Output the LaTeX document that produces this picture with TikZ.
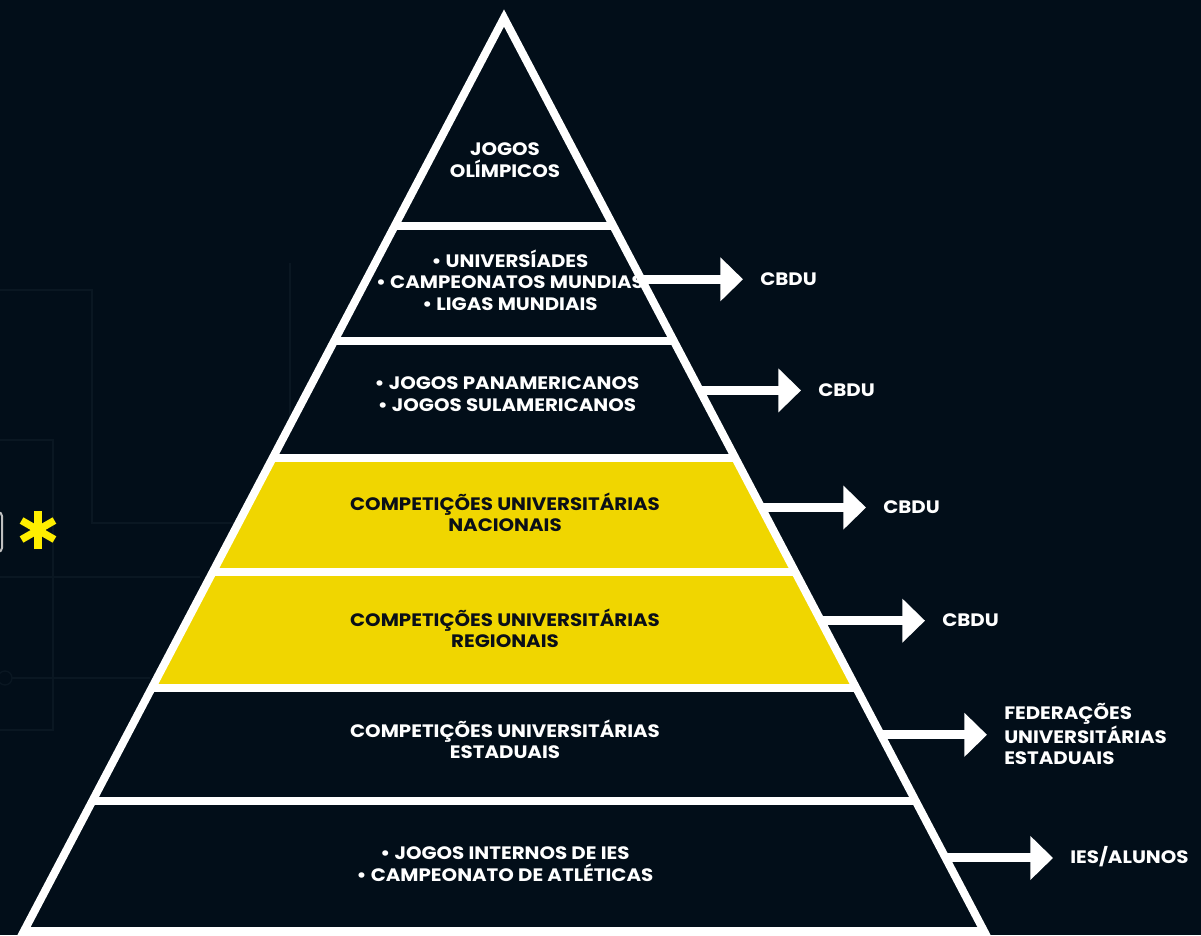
\documentclass[tikz,border=0pt]{standalone}
\usepackage{fontspec}
\setmainfont{Poppins}[FakeStretch=1.1]
\usetikzlibrary{arrows.meta,calc}
\definecolor{bg}{HTML}{020E19}
\definecolor{yel}{HTML}{F0D600}
\definecolor{ast}{HTML}{FFEE00}
\definecolor{ink}{HTML}{0A0F18}
\definecolor{faint}{HTML}{0A1722}
\begin{document}
\begin{tikzpicture}[x=0.75pt,y=-0.75pt,
  txt/.style={align=center,font=\bfseries\fontsize{13.5}{16}\selectfont,text=white,inner sep=0pt},
  darktxt/.style={txt,text=ink},
  lbl/.style={anchor=west,align=left,font=\bfseries\fontsize{13.5}{16}\selectfont,text=white,inner sep=0pt},
  edge/.style={draw=white,line width=6pt,line join=miter},
  sepline/.style={draw=white,line width=6pt},
  arr/.style={draw=white,line width=6.75pt,-{Triangle[width=32pt,length=17pt]},shorten >=12.75pt},
  faintline/.style={draw=faint,line width=1pt},
  astline/.style={draw=ast,line width=5.5pt}]
\useasboundingbox[fill=bg] (0,0) rectangle (1201,935);
% faint background lines
\draw[faintline] (0,290) -- (92,290) -- (92,523) -- (300,523);
\draw[faintline] (290,263) -- (290,430);
\draw[faintline] (0,440) -- (53,440) -- (53,730) -- (0,730);
\draw[faintline] (0,577) -- (200,577);
\draw[faintline] (12,678) -- (150,678);
\draw[faintline] (5,678) circle[radius=7];
% partial rounded box and asterisk
\draw[draw=black!25,line width=1.5pt,rounded corners=3pt] (-20,512) rectangle (2,552);
\coordinate (ac) at (38,530);
\foreach \a in {90,30,-30} \draw[astline] (ac) +(\a:19) -- +(\a+180:19);
% pyramid geometry
\coordinate (ap) at (504,18);
\coordinate (bl) at (24,931);
\coordinate (br) at (984,931);
\foreach \n/\t in {1/0.2281,2/0.3542,3/0.4814,4/0.6064,5/0.7336,6/0.8575}{
  \coordinate (L\n) at ($(ap)!\t!(bl)$);
  \coordinate (R\n) at ($(ap)!\t!(br)$);
}
\fill[yel] (L3) -- (R3) -- (R5) -- (L5) -- cycle;
\draw[edge] (bl) -- (ap) -- (br) -- cycle;
\foreach \n in {1,...,6} \draw[sepline] (L\n) -- (R\n);
% band texts
\node[txt] (t1) at (505,160) {JOGOS\\OLÍMPICOS};
\node[txt] (t2) at (510,280) {• UNIVERSÍADES\\• CAMPEONATOS MUNDIAS\\• LIGAS MUNDIAIS};
\node[txt] (t3) at (507,394) {• JOGOS PANAMERICANOS\\• JOGOS SULAMERICANOS};
\node[darktxt] (t4) at (505,512) {COMPETIÇÕES UNIVERSITÁRIAS\\NACIONAIS};
\node[darktxt] (t5) at (505,628) {COMPETIÇÕES UNIVERSITÁRIAS\\REGIONAIS};
\node[txt] (t6) at (505,739) {COMPETIÇÕES UNIVERSITÁRIAS\\ESTADUAIS};
\node[txt] (t7) at (505,864) {• JOGOS INTERNOS DE IES\\• CAMPEONATO DE ATLÉTICAS};
% edge points for arrows
\foreach \n/\t in {1/0.2862,2/0.4079,3/0.5362,4/0.6601,5/0.7851,6/0.9200}{
  \coordinate (e\n) at ($(ap)!\t!(br)$);
}
% right labels
\node[lbl] (l1) at (760,279) {CBDU};
\node[lbl] (l2) at (818,390) {CBDU};
\node[lbl] (l3) at (883,507) {CBDU};
\node[lbl] (l4) at (942,620) {CBDU};
\node[lbl] (l5) at (1004,734) {FEDERAÇÕES\\UNIVERSITÁRIAS\\ESTADUAIS};
\node[lbl] (l6) at (1070,857) {IES/ALUNOS};
\foreach \n in {1,...,6} \draw[arr] (e\n) -- (e\n -| l\n.west);
\end{tikzpicture}
\end{document}
